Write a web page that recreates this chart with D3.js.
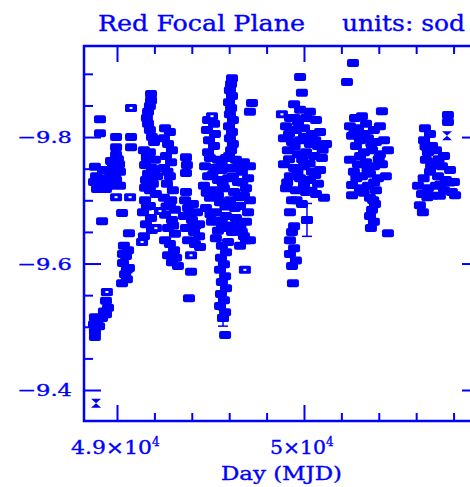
<!DOCTYPE html>
<html><head><meta charset="utf-8">
<script src="https://cdn.jsdelivr.net/npm/d3@7"></script>
<style>html,body{margin:0;padding:0;background:#fff;}svg{display:block;}</style>
</head><body>
<script>
// ---- data (Day MJD, value) ----
const season1 = [[48909,-9.828],[48909,-9.806],[48882,-9.753],[48925,-9.748],[48963,-9.745],[48888,-9.738],[48941,-9.735],[48979,-9.738],[48877,-9.729],[48914,-9.726],[48957,-9.727],[48893,-9.718],[48941,-9.718],[48920,-9.667],[48952,-9.530],[48941,-9.520],[48882,-9.515],[48920,-9.514],[48877,-9.504],[48904,-9.501],[48882,-9.493],[48882,-9.484],[48941,-9.541],[48893,-9.508],[48930,-9.524],
[48995,-9.800],[49075,-9.800],[48995,-9.784],[49075,-9.784],[48995,-9.772],[48968,-9.762],[49011,-9.757],[48979,-9.754],[49016,-9.745],[48995,-9.732],[49016,-9.723],[48963,-9.723],[49027,-9.680],[49064,-9.648],[49037,-9.628],[49059,-9.621],[49048,-9.612],[49032,-9.601],[49064,-9.593],[49043,-9.583],[49053,-9.575],[49027,-9.569],[49005,-9.765],[48990,-9.742],[49032,-9.615],[49053,-9.590]];
const season2 = [[49182,-9.868],[49182,-9.858],[49176,-9.849],[49166,-9.840],[49160,-9.830],[49166,-9.821],[49176,-9.811],[49187,-9.800],[49198,-9.792],
[49144,-9.779],[49176,-9.776],[49160,-9.767],[49203,-9.764],[49150,-9.756],[49187,-9.751],[49166,-9.742],[49214,-9.738],[49155,-9.732],[49192,-9.726],[49176,-9.716],[49208,-9.710],
[49257,-9.814],[49283,-9.808],[49251,-9.798],[49273,-9.789],[49294,-9.779],[49262,-9.770],[49289,-9.760],[49251,-9.751],[49283,-9.738],[49267,-9.726],[49299,-9.716],[49251,-9.704],[49283,-9.694],[49310,-9.685],[49257,-9.677],[49294,-9.669],[49273,-9.656],[49310,-9.647],[49257,-9.637],
[49150,-9.700],[49176,-9.691],[49139,-9.681],[49182,-9.672],[49155,-9.662],[49187,-9.653],[49144,-9.643],
[49283,-9.631],[49305,-9.621],[49273,-9.613],[49316,-9.609],[49294,-9.602],[49326,-9.596],
[49160,-9.772],[49198,-9.745],[49150,-9.720],[49270,-9.745],[49290,-9.700],[49265,-9.690],[49160,-9.690],[49300,-9.660],
[49369,-9.768],[49374,-9.756],[49369,-9.743],[49369,-9.713],[49364,-9.700],[49406,-9.694],[49380,-9.688],[49428,-9.681],[49358,-9.675],[49401,-9.669],[49439,-9.662],[49369,-9.656],[49412,-9.650],[49439,-9.643],[49380,-9.637],[49417,-9.631],[49444,-9.626],[49396,-9.587],[49385,-9.545],[49395,-9.680],[49420,-9.660]];
const season3 = [[49487,-9.827],[49519,-9.821],[49481,-9.811],[49524,-9.805],[49492,-9.795],[49519,-9.786],[49487,-9.776],
[49615,-9.893],[49610,-9.884],[49604,-9.874],[49615,-9.865],[49599,-9.855],[49610,-9.846],[49604,-9.836],[49620,-9.827],[49599,-9.817],[49615,-9.808],[49604,-9.798],[49620,-9.789],[49610,-9.779],[49599,-9.770],
[49722,-9.854],[49711,-9.840],
[49497,-9.767],[49540,-9.764],[49583,-9.767],[49636,-9.764],[49679,-9.760],[49711,-9.754],[49471,-9.754],[49519,-9.751],[49561,-9.748],[49615,-9.751],[49668,-9.745],[49701,-9.735],[49487,-9.738],[49540,-9.732],[49594,-9.735],[49647,-9.729],[49690,-9.719],[49465,-9.723],[49519,-9.716],[49572,-9.719],[49626,-9.713],[49679,-9.707],[49711,-9.700],[49497,-9.704],[49551,-9.697],[49604,-9.700],[49658,-9.691],[49701,-9.681],[49476,-9.688],[49529,-9.681],[49583,-9.675],[49636,-9.672],[49690,-9.666],[49508,-9.666],[49561,-9.656],[49615,-9.650],[49679,-9.643],[49711,-9.637],[49529,-9.640],[49594,-9.634],
[49561,-9.628],[49583,-9.618],[49556,-9.609],[49572,-9.599],[49551,-9.590],[49578,-9.580],[49561,-9.571],[49583,-9.561],[49556,-9.552],[49572,-9.542],[49551,-9.533],[49578,-9.523],[49567,-9.514],[49578,-9.487],
[49668,-9.650],[49690,-9.637],[49658,-9.628],
[49560,-9.758],[49650,-9.755],[49510,-9.740],[49620,-9.738],[49565,-9.728],[49670,-9.728],[49480,-9.712],[49540,-9.708],[49650,-9.705],[49580,-9.690],[49630,-9.688],[49500,-9.678],[49560,-9.668],[49660,-9.660],[49540,-9.652],[49600,-9.660]];
const season4 = [[49979,-9.895],[49989,-9.870],
[49947,-9.852],[49979,-9.843],[50032,-9.840],[49925,-9.830],[49968,-9.824],[50011,-9.830],[50064,-9.827],[49904,-9.817],[49957,-9.811],[50000,-9.814],[50043,-9.805],[50086,-9.808],[49893,-9.798],[49936,-9.792],[49979,-9.795],[50032,-9.789],[50075,-9.786],[50118,-9.789],[49914,-9.779],[49968,-9.773],[50011,-9.776],[50053,-9.770],[50096,-9.767],[49893,-9.757],[49947,-9.751],[50000,-9.754],[50043,-9.745],[50086,-9.748],[49925,-9.738],[49979,-9.735],[50032,-9.732],[50075,-9.726],[49904,-9.719],[49957,-9.716],[50011,-9.713],[50064,-9.710],[50107,-9.704],[49936,-9.700],[49989,-9.694],[49925,-9.681],[50016,-9.669],[49947,-9.659],[49936,-9.650],[49925,-9.637],[49947,-9.624],[49925,-9.615],[49957,-9.605],[49936,-9.596],[49941,-9.569],
[49950,-9.830],[50000,-9.800],[49920,-9.805],[50060,-9.795],[49950,-9.785],[50100,-9.780],[49990,-9.765],[49920,-9.765],[50030,-9.758],[49965,-9.745],[50060,-9.740],[49910,-9.728],[50000,-9.725],[50040,-9.715],[49960,-9.700]];
const season5 = [[50262,-9.917],[50230,-9.887],[50417,-9.841],
[50273,-9.830],[50310,-9.833],[50246,-9.817],[50289,-9.814],[50332,-9.821],[50374,-9.811],[50406,-9.817],[50257,-9.802],[50299,-9.795],[50342,-9.798],[50385,-9.792],[50428,-9.795],[50278,-9.786],[50321,-9.776],[50364,-9.779],[50406,-9.773],[50449,-9.779],[50246,-9.764],[50289,-9.757],[50332,-9.760],[50374,-9.754],[50417,-9.757],[50267,-9.745],[50310,-9.738],[50353,-9.742],[50396,-9.735],[50438,-9.738],[50257,-9.724],[50299,-9.719],[50342,-9.723],[50385,-9.716],[50257,-9.708],[50353,-9.704],[50380,-9.694],[50364,-9.685],[50353,-9.675],[50374,-9.666],[50358,-9.656],[50449,-9.648],
[50270,-9.808],[50320,-9.805],[50360,-9.790],[50300,-9.770],[50400,-9.765],[50340,-9.748],[50280,-9.735],[50375,-9.728],[50320,-9.712],[50370,-9.700]];
const season6 = [[50770,-9.835],[50770,-9.824],
[50647,-9.814],[50674,-9.805],[50642,-9.795],[50685,-9.786],[50663,-9.776],[50706,-9.779],[50749,-9.770],[50652,-9.764],[50695,-9.760],[50738,-9.754],[50781,-9.748],[50674,-9.745],[50717,-9.738],[50759,-9.732],[50802,-9.729],[50610,-9.723],[50663,-9.719],[50706,-9.723],[50749,-9.716],[50791,-9.713],[50631,-9.710],[50685,-9.707],[50727,-9.707],[50808,-9.708],[50620,-9.692],[50636,-9.681],
[50650,-9.785],[50720,-9.765],[50680,-9.755],[50640,-9.735],[50730,-9.725],[50780,-9.728],[50660,-9.705]];
const openPoints = [[49075,-9.846],[48995,-9.705],[49070,-9.705],[49134,-9.634],[48946,-9.555],[49230,-9.683],[49208,-9.656],[49396,-9.613],[49508,-9.833],[49684,-9.590],[49882,-9.836]];
const crossPoints = [[48888,-9.379],[50765,-9.802]];
// vertical error bars: [day, value, halfErr]
const errorBars = [[49567,-9.514,0.013],[50016,-9.669,0.026]];

// ---- ticks ----
const xMajorTicks = [49000, 50000];
const xMinorTicks = [49200, 49400, 49600, 49800, 50200, 50400, 50600, 50800];
const xTickMantissa = ["4.9×10", "5×10"];
const xTickExp = ["4", "4"];
const yMajorTicks = [-9.8, -9.6, -9.4];
const yMinorTicks = [-9.9, -9.85, -9.75, -9.7, -9.65, -9.55, -9.5, -9.45];
const yTickLabels = ["−9.8", "−9.6", "−9.4"];
const titleLeft = "Red Focal Plane";
const titleRight = "units: sod";
const xTitle = "Day (MJD)";

// ---- drawing ----
const W = 470, H = 487, BLUE = "#0000ff";
const L = 84, R = 479, T = 46, B = 421;
const x = d3.scaleLinear().domain([48823.5, 50936]).range([L, R]);
const y = d3.scaleLinear().domain([-9.944, -9.351]).range([T, B]);
const FONT = "'DejaVu Serif', 'Liberation Serif', serif";
const MW = 12, MH = 8;

const svg = d3.select("body").append("svg").attr("width", W).attr("height", H);

// data
const allFilled = [].concat(season1, season2, season3, season4, season5, season6);
const g = svg.append("g");
g.selectAll("rect.pt").data(allFilled).join("rect").attr("class","pt")
  .attr("x", d => x(d[0]) - MW/2).attr("y", d => y(d[1]) - MH/2)
  .attr("width", MW).attr("height", MH).attr("rx", 2).attr("fill", BLUE);
g.selectAll("g.op").data(openPoints).join("g").attr("class","op").each(function(d){
  const s = d3.select(this);
  s.append("rect").attr("x", x(d[0]) - MW/2).attr("y", y(d[1]) - MH/2).attr("width", MW).attr("height", MH).attr("rx", 1.5).attr("fill", BLUE);
  s.append("rect").attr("x", x(d[0]) - 1.5).attr("y", y(d[1]) - 1).attr("width", 3).attr("height", 2).attr("fill", "#fff");
});
g.selectAll("path.cr").data(crossPoints).join("path").attr("class","cr")
  .attr("d", d => { const cx = x(d[0]), cy = y(d[1]); return `M${cx-5},${cy-4.5}L${cx+5},${cy-4.5}L${cx},${cy}Z M${cx-5},${cy+4.5}L${cx+5},${cy+4.5}L${cx},${cy}Z`; })
  .attr("fill", BLUE);
g.selectAll("g.eb").data(errorBars).join("g").attr("class","eb").each(function(d){
  const s = d3.select(this), cx = x(d[0]);
  const y0 = y(d[1] - d[2]), y1 = y(d[1] + d[2]);
  s.append("line").attr("x1", cx).attr("x2", cx).attr("y1", y0).attr("y2", y1).attr("stroke", BLUE).attr("stroke-width", 1.5);
  s.append("line").attr("x1", cx-5).attr("x2", cx+5).attr("y1", y0).attr("y2", y0).attr("stroke", BLUE).attr("stroke-width", 1.5);
  s.append("line").attr("x1", cx-5).attr("x2", cx+5).attr("y1", y1).attr("y2", y1).attr("stroke", BLUE).attr("stroke-width", 1.5);
  s.append("rect").attr("x", cx - MW/2).attr("y", y(d[1]) - MH/2).attr("width", MW).attr("height", MH).attr("rx", 2).attr("fill", BLUE);
});

// axes via d3 axis generators (ticks inward)
function styleAxis(sel){ sel.select(".domain").remove(); sel.selectAll("text").remove(); sel.selectAll("line").attr("stroke", BLUE).attr("stroke-width", 2); }
svg.append("g").attr("transform", `translate(0,${B})`).call(d3.axisBottom(x).tickValues(xMajorTicks).tickSize(-16)).call(styleAxis);
svg.append("g").attr("transform", `translate(0,${B})`).call(d3.axisBottom(x).tickValues(xMinorTicks).tickSize(-8)).call(styleAxis);
svg.append("g").attr("transform", `translate(0,${T})`).call(d3.axisTop(x).tickValues(xMajorTicks).tickSize(-16)).call(styleAxis);
svg.append("g").attr("transform", `translate(0,${T})`).call(d3.axisTop(x).tickValues(xMinorTicks).tickSize(-8)).call(styleAxis);
svg.append("g").attr("transform", `translate(${L},0)`).call(d3.axisLeft(y).tickValues(yMajorTicks).tickSize(-17)).call(styleAxis);
svg.append("g").attr("transform", `translate(${L},0)`).call(d3.axisLeft(y).tickValues(yMinorTicks).tickSize(-9)).call(styleAxis);
svg.append("g").attr("transform", `translate(${R},0)`).call(d3.axisRight(y).tickValues(yMajorTicks).tickSize(-17)).call(styleAxis);
svg.append("g").attr("transform", `translate(${R},0)`).call(d3.axisRight(y).tickValues(yMinorTicks).tickSize(-9)).call(styleAxis);

// frame
svg.append("rect").attr("x", L).attr("y", T).attr("width", R - L).attr("height", B - T)
  .attr("fill", "none").attr("stroke", BLUE).attr("stroke-width", 2.5);

const textStyle = s => s.attr("font-family", FONT).attr("fill", BLUE).attr("stroke", BLUE).attr("stroke-width", 0.35);

// y labels
svg.selectAll("text.yl").data(yMajorTicks).join("text").attr("class","yl")
  .attr("x", 17).attr("y", d => y(d) + 6).attr("textLength", 55).attr("lengthAdjust", "spacingAndGlyphs")
  .attr("font-size", 17).call(textStyle)
  .text((d,i) => yTickLabels[i]);

// x labels
const mantLen = [81, 56];
xMajorTicks.forEach((t, i) => {
  const txt = svg.append("text").attr("x", x(t) - 46 + (i ? 12 : 0)).attr("y", 454)
    .attr("font-size", 18).call(textStyle);
  txt.append("tspan").attr("textLength", mantLen[i]).attr("lengthAdjust", "spacingAndGlyphs").text(xTickMantissa[i]);
  txt.append("tspan").attr("dy", -8).attr("font-size", 12).text(xTickExp[i]);
});

// axis title
svg.append("text").attr("x", 221).attr("y", 480).attr("textLength", 121).attr("lengthAdjust", "spacingAndGlyphs")
  .attr("font-size", 18).call(textStyle).text(xTitle);

// chart title
svg.append("text").attr("x", 98).attr("y", 31).attr("textLength", 207).attr("lengthAdjust", "spacingAndGlyphs")
  .attr("font-size", 22).call(textStyle).text(titleLeft);
svg.append("text").attr("x", 342).attr("y", 31).attr("textLength", 123).attr("lengthAdjust", "spacingAndGlyphs")
  .attr("font-size", 22).call(textStyle).text(titleRight);
</script>
</body></html>
